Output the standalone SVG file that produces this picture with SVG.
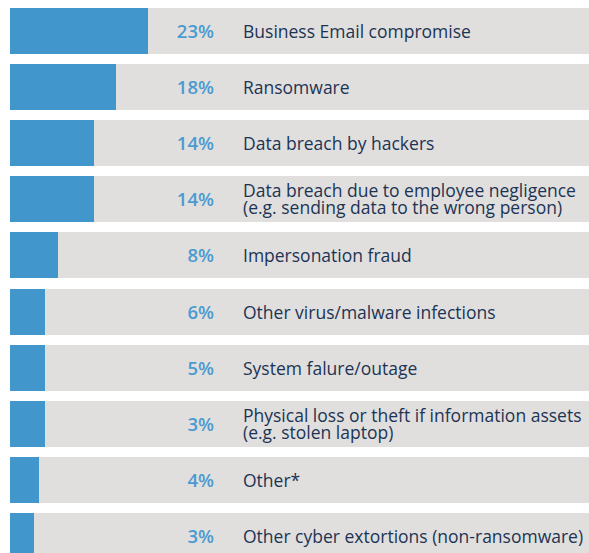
<svg xmlns="http://www.w3.org/2000/svg" width="589" height="553" viewBox="0 0 589 553">
<style>
.bg{fill:#e0dfde}
.bar{fill:#4196cb}
.pct{font-family:"Open Sans",sans-serif;font-size:18.5px;font-weight:600;fill:#4a9bd1;text-anchor:end}
.lbl{font-family:"Open Sans",sans-serif;font-size:17.5px;fill:#1c3454}
</style>
<rect width="589" height="553" fill="#ffffff"/>
<g id="row1"><rect class="bg" x="10" y="8" width="579" height="46"/><rect class="bar" x="10" y="8" width="138" height="46"/><text class="pct" x="214" y="38">23%</text><text class="lbl" x="243" y="37.5">Business Email compromise</text></g>
<g id="row2"><rect class="bg" x="10" y="64" width="579" height="46"/><rect class="bar" x="10" y="64" width="106" height="46"/><text class="pct" x="214" y="94">18%</text><text class="lbl" x="243" y="93.5">Ransomware</text></g>
<g id="row3"><rect class="bg" x="10" y="120" width="579" height="46"/><rect class="bar" x="10" y="120" width="84" height="46"/><text class="pct" x="214" y="150">14%</text><text class="lbl" x="243" y="149.5">Data breach by hackers</text></g>
<g id="row4"><rect class="bg" x="10" y="176" width="579" height="46"/><rect class="bar" x="10" y="176" width="84" height="46"/><text class="pct" x="214" y="206">14%</text><text class="lbl" x="243" y="196.5">Data breach due to employee negligence</text><text class="lbl" x="243" y="213.5">(e.g. sending data to the wrong person)</text></g>
<g id="row5"><rect class="bg" x="10" y="232" width="579" height="46"/><rect class="bar" x="10" y="232" width="48" height="46"/><text class="pct" x="214" y="262">8%</text><text class="lbl" x="243" y="261.5">Impersonation fraud</text></g>
<g id="row6"><rect class="bg" x="10" y="289" width="579" height="46"/><rect class="bar" x="10" y="289" width="35" height="46"/><text class="pct" x="214" y="319">6%</text><text class="lbl" x="243" y="318.5">Other virus/malware infections</text></g>
<g id="row7"><rect class="bg" x="10" y="345" width="579" height="46"/><rect class="bar" x="10" y="345" width="35" height="46"/><text class="pct" x="214" y="375">5%</text><text class="lbl" x="243" y="374.5">System falure/outage</text></g>
<g id="row8"><rect class="bg" x="10" y="401" width="579" height="46"/><rect class="bar" x="10" y="401" width="35" height="46"/><text class="pct" x="214" y="431">3%</text><text class="lbl" x="243" y="421.5">Physical loss or theft if information assets</text><text class="lbl" x="243" y="438.5">(e.g. stolen laptop)</text></g>
<g id="row9"><rect class="bg" x="10" y="457" width="579" height="46"/><rect class="bar" x="10" y="457" width="29" height="46"/><text class="pct" x="214" y="487">4%</text><text class="lbl" x="243" y="486.5">Other*</text></g>
<g id="row10"><rect class="bg" x="10" y="513" width="579" height="46"/><rect class="bar" x="10" y="513" width="24" height="46"/><text class="pct" x="214" y="543">3%</text><text class="lbl" x="243" y="542.5">Other cyber extortions (non-ransomware)</text></g>
</svg>
